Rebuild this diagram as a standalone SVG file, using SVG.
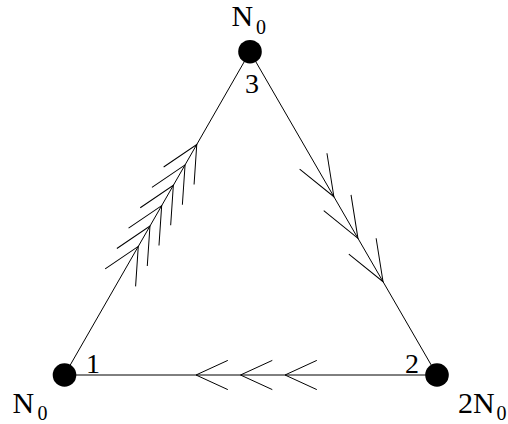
<svg xmlns="http://www.w3.org/2000/svg" xmlns:xlink="http://www.w3.org/1999/xlink" width="508" height="424" viewBox="0 0 508 424">
<style>
  .edge { stroke: #000; stroke-width: 1; fill: none; }
  .chev { stroke: #000; stroke-width: 1; fill: none; }
  .node { fill: #000; }
  .lbl { font-family: "Liberation Serif", "Times New Roman", serif; fill: #000; }
</style>
<defs>
  <path id="chevL" class="chev" d="M -35.95 -17.53 L 0 0 L -35.95 17.53"/>
  <path id="chevR" class="chev" d="M -41.08 -15.77 L 0 0 L -41.08 15.77"/>
  <path id="chevB" class="chev" d="M -31.8 -14.6 L 0 0 L -31.8 14.6"/>
</defs>
<rect width="508" height="424" fill="#fff"/>
<g id="connectors">
  <line class="edge" x1="64.5" y1="375" x2="250" y2="51.7"/>
  <line class="edge" x1="250" y1="51.7" x2="437" y2="375"/>
  <line class="edge" x1="64.5" y1="375" x2="437" y2="375"/>
  <use xlink:href="#chevL" transform="translate(196.75,144.52) rotate(-60.16)"/>
  <use xlink:href="#chevL" transform="translate(185.05,164.91) rotate(-60.16)"/>
  <use xlink:href="#chevL" transform="translate(173.35,185.3) rotate(-60.16)"/>
  <use xlink:href="#chevL" transform="translate(161.66,205.68) rotate(-60.16)"/>
  <use xlink:href="#chevL" transform="translate(149.96,226.07) rotate(-60.16)"/>
  <use xlink:href="#chevL" transform="translate(138.27,246.45) rotate(-60.16)"/>
  <use xlink:href="#chevR" transform="translate(333.87,196.7) rotate(59.95)"/>
  <use xlink:href="#chevR" transform="translate(357.95,238.3) rotate(59.95)"/>
  <use xlink:href="#chevR" transform="translate(383.04,281.7) rotate(59.95)"/>
  <use xlink:href="#chevB" transform="translate(196,375) rotate(180)"/>
  <use xlink:href="#chevB" transform="translate(240.5,375) rotate(180)"/>
  <use xlink:href="#chevB" transform="translate(285,375) rotate(180)"/>
</g>
<g id="node1">
  <circle class="node" cx="64.5" cy="375" r="11.8"/>
  <text class="lbl" font-size="28" x="86" y="372.5">1</text>
  <text class="lbl" font-size="30" x="12.5" y="413">N<tspan font-size="20" x="37.5" y="420">0</tspan></text>
</g>
<g id="node2">
  <circle class="node" cx="437" cy="375" r="11.8"/>
  <text class="lbl" font-size="28" x="405" y="373">2</text>
  <text class="lbl" font-size="30" x="458" y="413">2N<tspan font-size="20" x="496.5" y="420">0</tspan></text>
</g>
<g id="node3">
  <circle class="node" cx="250" cy="51.7" r="11.8"/>
  <text class="lbl" font-size="28" x="245" y="93">3</text>
  <text class="lbl" font-size="30" x="231.5" y="26">N<tspan font-size="20" x="256" y="34">0</tspan></text>
</g>
</svg>
